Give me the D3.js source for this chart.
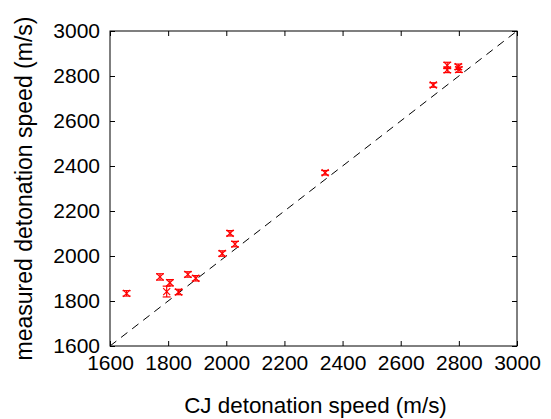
<!DOCTYPE html>
<html>
<head>
<meta charset="utf-8">
<script src="https://cdn.jsdelivr.net/npm/d3@7"></script>
<style>
  html, body { margin: 0; padding: 0; background: #fff; }
  svg { display: block; }
  text { font-family: "Liberation Sans", Arial, Helvetica, sans-serif; fill: #000; }
</style>
</head>
<body>
<svg id="chart" width="551" height="419"></svg>
<script>
// CJ (Chapman–Jouguet) predicted speed vs. measured detonation speed, m/s
const cjSpeed =       [1657, 1772, 1806, 1795, 1836, 1868, 1895, 1986, 2013, 2030, 2340, 2712, 2760, 2760, 2798, 2800];
const measuredSpeed = [1834, 1907, 1881, 1842, 1840, 1918, 1901, 2011, 2101, 2053, 2370, 2760, 2847, 2827, 2841, 2828];
const measuredError = [  12,   14,   14,   24,   12,   12,   12,   12,   12,   12,   10,   10,   14,   12,   12,   12];

const tickValues = [1600, 1800, 2000, 2200, 2400, 2600, 2800, 3000];
const axisDomain = [1600, 3000];

const svg = d3.select("#chart");
const plotLeft = 110, plotRight = 517, plotTop = 31, plotBottom = 346;

const x = d3.scaleLinear().domain(axisDomain).range([plotLeft, plotRight]);
const y = d3.scaleLinear().domain(axisDomain).range([plotBottom, plotTop]);
const fmt = d3.format("d");

// frame
svg.append("rect")
  .attr("x", plotLeft).attr("y", plotTop)
  .attr("width", plotRight - plotLeft).attr("height", plotBottom - plotTop)
  .attr("fill", "none").attr("stroke", "#000").attr("stroke-width", 1);

// inward ticks on all four sides
const tickLen = 5;
const tickFont = 21;
function styleAxis(g) {
  g.select(".domain").remove();
  g.selectAll(".tick line").attr("stroke", "#000");
}
svg.append("g").attr("transform", `translate(0,${plotBottom})`)
  .call(d3.axisBottom(x).tickValues(tickValues).tickFormat(fmt).tickSizeInner(-tickLen).tickSizeOuter(0).tickPadding(9))
  .call(styleAxis)
  .call(g => g.selectAll(".tick text").attr("font-size", tickFont));
svg.append("g").attr("transform", `translate(0,${plotTop})`)
  .call(d3.axisTop(x).tickValues(tickValues).tickSizeInner(-tickLen).tickSizeOuter(0).tickFormat(""))
  .call(styleAxis);
svg.append("g").attr("transform", `translate(${plotLeft},0)`)
  .call(d3.axisLeft(y).tickValues(tickValues).tickFormat(fmt).tickSizeInner(-tickLen).tickSizeOuter(0).tickPadding(10))
  .call(styleAxis)
  .call(g => g.selectAll(".tick text").attr("font-size", tickFont));
svg.append("g").attr("transform", `translate(${plotRight},0)`)
  .call(d3.axisRight(y).tickValues(tickValues).tickSizeInner(-tickLen).tickSizeOuter(0).tickFormat(""))
  .call(styleAxis);
svg.selectAll(".tick text").attr("font-family", "Liberation Sans, Arial, sans-serif").attr("fill", "#000");

// y = x reference line
svg.append("line")
  .attr("x1", x(axisDomain[0])).attr("y1", y(axisDomain[0]))
  .attr("x2", x(axisDomain[1])).attr("y2", y(axisDomain[1]))
  .attr("stroke", "#000").attr("stroke-width", 1)
  .attr("stroke-dasharray", "8,6");

// measurements with error bars
const pts = cjSpeed.map((c, i) => ({ c, m: measuredSpeed[i], e: measuredError[i] }));
const red = "#ff0000";
const cap = 4, mk = 3.5;
const g = svg.append("g").attr("stroke", red).attr("stroke-width", 1.2).attr("fill", "none");
const pg = g.selectAll("g.pt").data(pts).join("g").attr("class", "pt");
pg.append("line")
  .attr("x1", d => x(d.c)).attr("x2", d => x(d.c))
  .attr("y1", d => y(d.m - d.e)).attr("y2", d => y(d.m + d.e));
pg.append("line")
  .attr("x1", d => x(d.c) - cap).attr("x2", d => x(d.c) + cap)
  .attr("y1", d => y(d.m - d.e)).attr("y2", d => y(d.m - d.e));
pg.append("line")
  .attr("x1", d => x(d.c) - cap).attr("x2", d => x(d.c) + cap)
  .attr("y1", d => y(d.m + d.e)).attr("y2", d => y(d.m + d.e));
pg.append("path")
  .attr("d", d => {
    const cx = x(d.c), cy = y(d.m);
    return `M${cx - mk},${cy - mk}L${cx + mk},${cy + mk}M${cx - mk},${cy + mk}L${cx + mk},${cy - mk}`;
  });

// axis titles
svg.append("text")
  .attr("x", (plotLeft + plotRight) / 2 + 2).attr("y", 413)
  .attr("text-anchor", "middle").attr("font-size", 22.4)
  .text("CJ detonation speed (m/s)");
svg.append("text")
  .attr("transform", `translate(32,${(10 + 367) / 2}) rotate(-90)`)
  .attr("text-anchor", "middle").attr("font-size", 23)
  .text("measured detonation speed (m/s)");
</script>
</body>
</html>
